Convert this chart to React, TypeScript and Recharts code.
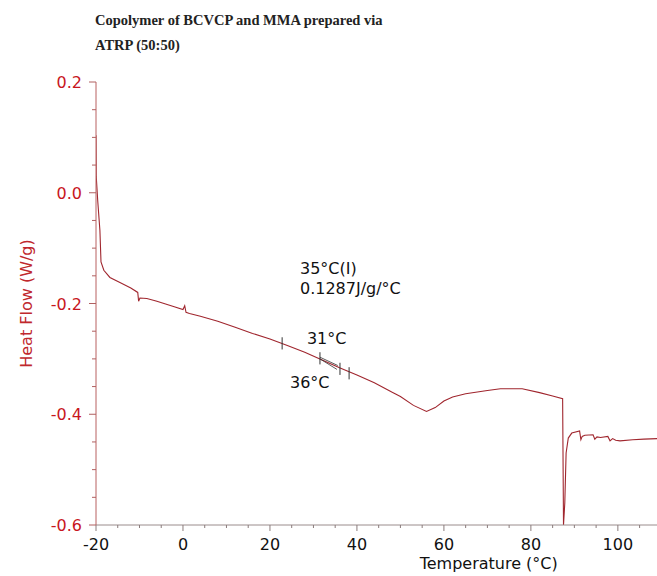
import React from "react";
import {
  LineChart,
  Line,
  XAxis,
  YAxis,
  ReferenceLine,
  ReferenceDot,
} from "recharts";

// DSC trace
const temps = [
  -20, -19.95, -19.6, -19.1, -18.85, -18.2, -16.8, -14.5, -12, -10.4, -10.2, -9.9, -8.3, -6, -4, -2, 0, 0.4,
  0.7, 1.5, 4, 8, 12, 16, 20, 24, 28, 32, 36, 40, 44, 48, 50, 53, 56, 58, 60, 62, 65, 70, 73, 78, 82, 85, 87.3,
  87.5, 87.8, 88.1, 88.6, 89.4, 91.2, 91.5, 91.8, 92.4, 94.3, 94.7, 95.2, 96, 97.7, 98.2, 98.8, 99.5, 100.5,
  103.4, 106, 109,
];
const heatFlow = [
  0.104, 0.03, -0.015, -0.068, -0.125, -0.14, -0.153, -0.162, -0.172, -0.18, -0.196, -0.19, -0.191, -0.196,
  -0.201, -0.206, -0.211, -0.204, -0.216, -0.218, -0.223, -0.232, -0.243, -0.254, -0.264, -0.276, -0.288,
  -0.302, -0.316, -0.329, -0.343, -0.36, -0.368, -0.384, -0.395, -0.388, -0.376, -0.369, -0.363, -0.357,
  -0.354, -0.354, -0.361, -0.367, -0.372, -0.6, -0.56, -0.47, -0.443, -0.434, -0.43, -0.446, -0.44, -0.438,
  -0.437, -0.445, -0.441, -0.442, -0.44, -0.448, -0.444, -0.447, -0.448, -0.446, -0.445, -0.444,
];

const xTicks = [-20, -15, -10, -5, 0, 5, 10, 15, 20, 25, 30, 35, 40, 45, 50, 55, 60, 65, 70, 75, 80, 85, 90, 95, 100, 105];
const xMajor = [-20, 0, 20, 40, 60, 80, 100];
const yTicks = [-0.6, -0.55, -0.5, -0.45, -0.4, -0.35, -0.3, -0.25, -0.2, -0.15, -0.1, -0.05, 0, 0.05, 0.1, 0.15, 0.2];
const yMajor = [-0.6, -0.4, -0.2, 0, 0.2];

// analysis marks on the transition
const markX = [22.8, 31.5, 36.1, 38.2];
const markY = [-0.272, -0.299, -0.318, -0.326];
const tangentFrom = [{ x: 31.5, y: -0.297 }, { x: 31.5, y: -0.3 }];
const tangentTo = [{ x: 35.6, y: -0.312 }, { x: 35.4, y: -0.319 }];

const annoText = ["35°C(I)", "0.1287J/g/°C", "31°C", "36°C"];
const annoX = [26.9, 26.9, 28.5, 24.6];
const annoY = [-0.146, -0.183, -0.274, -0.352];

const data = temps.map((t, i) => ({ t, hf: heatFlow[i] }));

const sans = "DejaVu Sans";

const XTick = (props: any) => {
  const { x, y, payload } = props;
  const major = xMajor.includes(payload.value);
  return (
    <g>
      <line x1={x} x2={x} y1={y} y2={y + (major ? 6 : 3)} stroke="#8a7c7c" />
      {major && (
        <text x={x} y={y + 25} textAnchor="middle" fontSize={16} fontFamily={sans} fill="#111">
          {payload.value}
        </text>
      )}
    </g>
  );
};

const YTick = (props: any) => {
  const { x, y, payload } = props;
  const major = yMajor.some((m) => Math.abs(m - payload.value) < 1e-9);
  return (
    <g>
      <line x1={x - (major ? 7 : 4)} x2={x} y1={y} y2={y} stroke="#b06060" />
      {major && (
        <text x={x - 14} y={y + 6} textAnchor="end" fontSize={16} fontFamily={sans} fill="#c8161d">
          {payload.value.toFixed(1)}
        </text>
      )}
    </g>
  );
};

export default function App() {
  return (
    <div style={{ position: "absolute", left: 0, top: 0, width: 657, height: 576, background: "#fff" }}>
      <div
        style={{
          position: "absolute",
          left: 95,
          top: 8,
          fontFamily: "Liberation Serif",
          fontWeight: "bold",
          fontSize: 14.5,
          lineHeight: "25px",
          color: "#222",
          whiteSpace: "nowrap",
        }}
      >
        Copolymer of BCVCP and MMA prepared via
        <br />
        ATRP (50:50)
      </div>
      <LineChart width={657} height={576} data={data} margin={{ top: 82, right: 0, bottom: 0, left: 0 }}>
        <XAxis
          dataKey="t"
          type="number"
          domain={[-20, 109]}
          ticks={xTicks}
          interval={0}
          allowDataOverflow
          height={51}
          tickSize={0}
          tickMargin={0}
          tick={<XTick />}
          tickLine={false}
          axisLine={{ stroke: "#9a8c8c" }}
          label={{
            content: (p: any) => (
              <text
                x={p.viewBox.x + p.viewBox.width * 0.7}
                y={p.viewBox.y + 44}
                textAnchor="middle"
                fontSize={16}
                fontFamily={sans}
                fill="#111"
              >
                Temperature (°C)
              </text>
            ),
          }}
        />
        <YAxis
          type="number"
          domain={[-0.6, 0.2]}
          ticks={yTicks}
          interval={0}
          allowDataOverflow
          width={96}
          tickSize={0}
          tickMargin={0}
          tick={<YTick />}
          tickLine={false}
          axisLine={{ stroke: "#b86060" }}
          label={{
            content: (p: any) => (
              <text
                x={26}
                y={p.viewBox.y + p.viewBox.height / 2}
                transform={`rotate(-90, 26, ${p.viewBox.y + p.viewBox.height / 2})`}
                textAnchor="middle"
                dominantBaseline="central"
                fontSize={16}
                fontFamily={sans}
                fill="#c0282d"
              >
                Heat Flow (W/g)
              </text>
            ),
          }}
        />
        <Line
          type="linear"
          dataKey="hf"
          stroke="#a0262e"
          strokeWidth={1.1}
          dot={false}
          isAnimationActive={false}
        />
        {markX.map((mx, i) => (
          <ReferenceLine
            key={"m" + i}
            segment={[
              { x: mx, y: markY[i] - 0.011 },
              { x: mx, y: markY[i] + 0.011 },
            ]}
            stroke="#333"
            strokeWidth={1}
          />
        ))}
        {tangentFrom.map((f, i) => (
          <ReferenceLine key={"tg" + i} segment={[f, tangentTo[i]]} stroke="#333" strokeWidth={0.8} />
        ))}
        {annoText.map((txt, i) => (
          <ReferenceDot
            key={"a" + i}
            x={annoX[i]}
            y={annoY[i]}
            r={0}
            fill="none"
            stroke="none"
            label={{
              content: (p: any) => (
                <text x={p.viewBox.x} y={p.viewBox.y} fontSize={16} fontFamily={sans} fill="#111">
                  {txt}
                </text>
              ),
            }}
          />
        ))}
      </LineChart>
    </div>
  );
}
